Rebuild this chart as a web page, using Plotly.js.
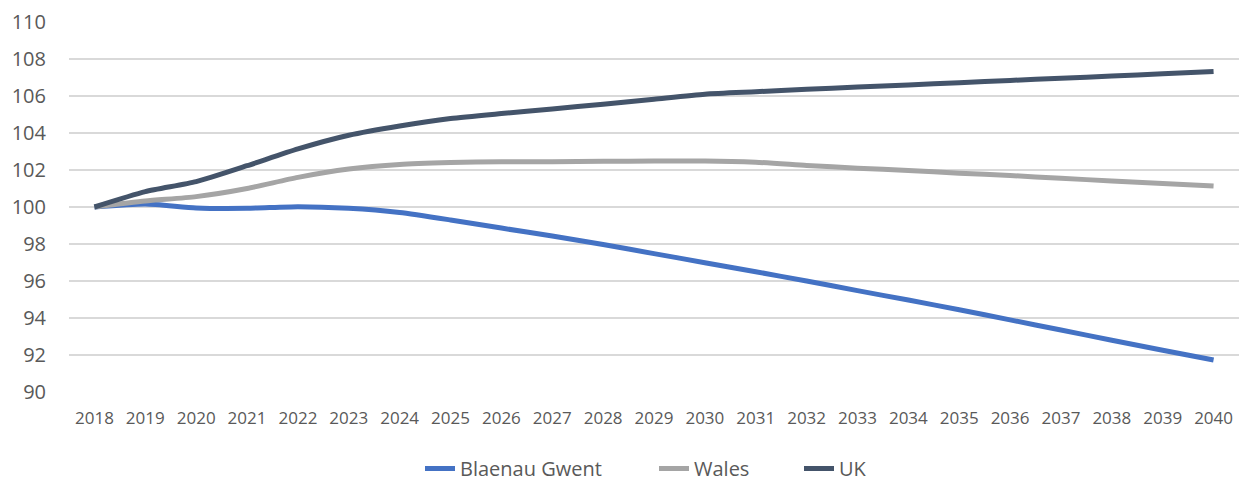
<!DOCTYPE html>
<html>
<head>
<meta charset="utf-8">
<script src="https://cdn.plot.ly/plotly-3.0.1.min.js"></script>
<style>html,body{margin:0;padding:0;background:#fff;}#chart{width:1246px;height:481px;}</style>
</head>
<body>
<div id="chart"></div>
<script>
const years = ["2018","2019","2020","2021","2022","2023","2024","2025","2026","2027","2028","2029","2030","2031","2032","2033","2034","2035","2036","2037","2038","2039","2040"];
const blaenauGwent = [100, 100.16, 99.95, 99.93, 100.02, 99.93, 99.7, 99.3, 98.86, 98.43, 97.97, 97.48, 96.99, 96.5, 96.0, 95.48, 94.97, 94.45, 93.9, 93.35, 92.8, 92.26, 91.73];
const wales = [100, 100.32, 100.56, 101.0, 101.6, 102.05, 102.3, 102.4, 102.45, 102.45, 102.47, 102.48, 102.49, 102.42, 102.25, 102.1, 101.97, 101.83, 101.7, 101.55, 101.41, 101.27, 101.13];
const uk = [100, 100.83, 101.37, 102.23, 103.14, 103.88, 104.38, 104.78, 105.05, 105.3, 105.56, 105.83, 106.1, 106.23, 106.36, 106.48, 106.6, 106.72, 106.84, 106.96, 107.08, 107.2, 107.33];
const yTicks = [90, 92, 94, 96, 98, 100, 102, 104, 106, 108, 110];

const font = '"Open Sans", "Noto Sans", sans-serif';
function tr(name, y, color, leg) {
  return {x: years, y: y, name: name, type: 'scatter', mode: 'lines', legend: leg,
    line: {color: color, width: 5, shape: 'spline', smoothing: 0.6}, hoverinfo: 'skip'};
}
const data = [
  tr('Blaenau Gwent', blaenauGwent, '#4472C4', 'legend'),
  tr('Wales', wales, '#A5A5A5', 'legend2'),
  tr('UK', uk, '#44546A', 'legend3')
];
function leg(px) {
  return {orientation: 'h', x: px / 1246, xanchor: 'left', xref: 'container', y: 0.026, yanchor: 'middle', yref: 'container',
    font: {family: font, size: 20, color: '#595959'}, itemwidth: 30, bgcolor: 'rgba(0,0,0,0)'};
}
const layout = {
  width: 1246, height: 481,
  margin: {l: 69, r: 7, t: 22, b: 89},
  paper_bgcolor: '#fff', plot_bgcolor: '#fff',
  showlegend: true,
  legend: leg(420), legend2: leg(654), legend3: leg(799),
  xaxis: {type: 'category', range: [-0.5, 22.5], showgrid: false, zeroline: false, showline: false,
    ticks: '', ticklabelstandoff: 14, tickfont: {family: font, size: 17, color: '#595959'}, fixedrange: true},
  yaxis: {range: [90, 110], tickvals: yTicks, ticktext: yTicks.map(String), showgrid: true,
    gridcolor: '#D9D9D9', gridwidth: 1.5, zeroline: false, showline: false, ticks: '',
    ticklabelstandoff: 22, tickfont: {family: font, size: 20, color: '#595959'}, fixedrange: true}
};
Plotly.newPlot('chart', data, layout, {displayModeBar: false, staticPlot: true});
</script>
</body>
</html>
